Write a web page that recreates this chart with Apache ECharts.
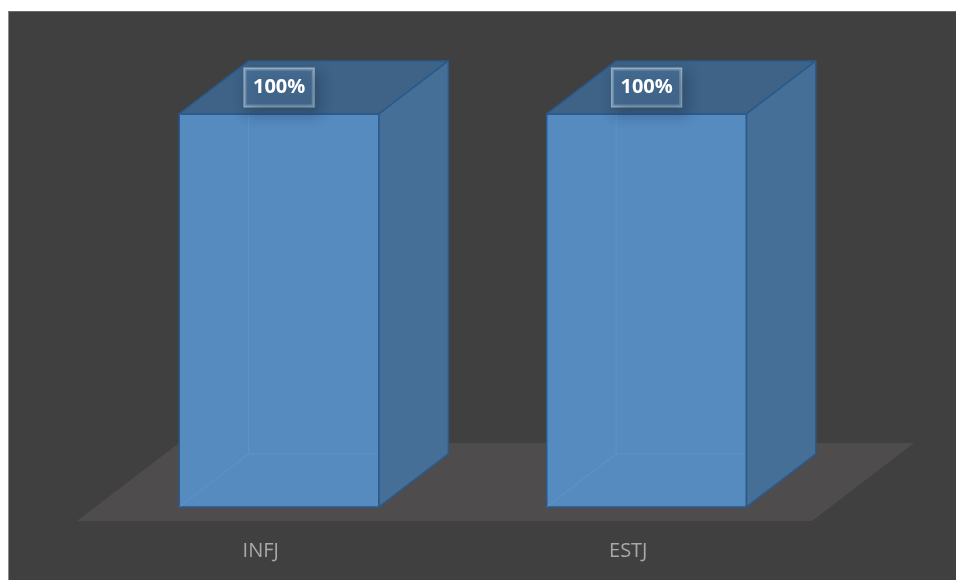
<!DOCTYPE html>
<html>
<head>
<meta charset="utf-8">
<script src="https://cdn.jsdelivr.net/npm/echarts@6/dist/echarts.min.js"></script>
<style>
  html, body { margin: 0; padding: 0; background: #ffffff; }
  #chart { position: absolute; left: 8px; top: 11px; width: 948px; height: 569px; border-left: 1px solid #8c8c8c; border-top: 1px solid #6a6a6a; box-sizing: border-box; }
</style>
</head>
<body>
<div id="chart"></div>
<script>
// ---- data ----
var categories = ['INFJ', 'ESTJ'];
var values = [100, 100];          // percent
var valueMax = 100;

// ---- projection constants (layout/style) ----
var DX = 102, DY = 78;            // full floor depth vector
var F0 = 0.18, F1 = 0.86;         // bar front/back depth fractions
var BAR_RATIO = 0.5435;

var chart = echarts.init(document.getElementById('chart'));

function floorItem(params, api) {
  var cs = params.coordSys;
  var xb = cs.x, yb = cs.y + cs.height, w = cs.width;
  return {
    type: 'polygon',
    shape: { points: [[xb, yb], [xb + w, yb], [xb + w + DX, yb - DY], [xb + DX, yb - DY]] },
    style: { fill: '#4f4c4d' },
    silent: true
  };
}

function barItem(params, api) {
  var i = api.value(0), v = api.value(1);
  var base = api.coord([i, 0]);
  var top = api.coord([i, v]);
  var band = api.size([1, 0])[0];
  var hw = band * BAR_RATIO / 2;
  var ox0 = F0 * DX, oy0 = -F0 * DY;
  var ox1 = F1 * DX, oy1 = -F1 * DY;
  var L0 = base[0] - hw + ox0, R0 = base[0] + hw + ox0;
  var T0 = top[1] + oy0, B0 = base[1] + oy0;
  var L1 = base[0] - hw + ox1, R1 = base[0] + hw + ox1;
  var T1 = top[1] + oy1, B1 = base[1] + oy1;
  var edge = '#2a5a8c';
  var hidden = 'rgba(110,165,220,0.35)';
  var cx = (L0 + R0) / 2;
  var ly = (T0 + T1) / 2;
  return {
    type: 'group',
    children: [
      { type: 'polygon', shape: { points: [[L0, T0], [R0, T0], [R0, B0], [L0, B0]] },
        style: { fill: '#568bbf', stroke: edge, lineWidth: 1.5 } },
      { type: 'line', shape: { x1: L1, y1: T1, x2: L1, y2: B1 }, style: { stroke: hidden, lineWidth: 1 } },
      { type: 'line', shape: { x1: L0, y1: B0, x2: L1, y2: B1 }, style: { stroke: hidden, lineWidth: 1 } },
      { type: 'line', shape: { x1: L1, y1: B1, x2: R1, y2: B1 }, style: { stroke: hidden, lineWidth: 1 } },
      { type: 'polygon', shape: { points: [[L0, T0], [R0, T0], [R1, T1], [L1, T1]] },
        style: { fill: '#3e6387', stroke: edge, lineWidth: 1.5, lineJoin: 'round' } },
      { type: 'polygon', shape: { points: [[R0, T0], [R1, T1], [R1, B1], [R0, B0]] },
        style: { fill: '#466f98', stroke: edge, lineWidth: 1.5, lineJoin: 'round' } },
      { type: 'text',
        style: {
          x: cx, y: ly,
          text: Math.round(v) + '%',
          align: 'center', verticalAlign: 'middle',
          fill: '#ffffff',
          font: 'bold 20px "Open Sans", sans-serif',
          backgroundColor: 'rgba(80,120,160,0.55)',
          borderColor: 'rgba(190,205,222,0.75)',
          borderWidth: 1.5,
          padding: [9, 8, 8, 8],
          shadowColor: 'rgba(20,35,55,0.55)',
          shadowBlur: 14,
          shadowOffsetX: 4,
          shadowOffsetY: 6
        } }
    ]
  };
}

var option = {
  backgroundColor: '#404040',
  animation: false,
  grid: { left: 68, right: 144, top: 116, bottom: 59, containLabel: false },
  xAxis: {
    type: 'category',
    data: categories,
    axisLine: { show: false },
    axisTick: { show: false },
    splitLine: { show: false },
    axisLabel: { color: '#a8a8a8', fontSize: 20, fontFamily: 'Open Sans', margin: 19, lineHeight: 22 }
  },
  yAxis: {
    type: 'value', min: 0, max: valueMax, show: false, splitLine: { show: false }
  },
  series: [
    { type: 'custom', renderItem: floorItem, data: [[0, 0]], clip: false, silent: true, z: 1 },
    { type: 'custom', renderItem: barItem, clip: false, z: 2,
      data: values.map(function (v, i) { return [i, v]; }) }
  ]
};
chart.setOption(option);
</script>
</body>
</html>
